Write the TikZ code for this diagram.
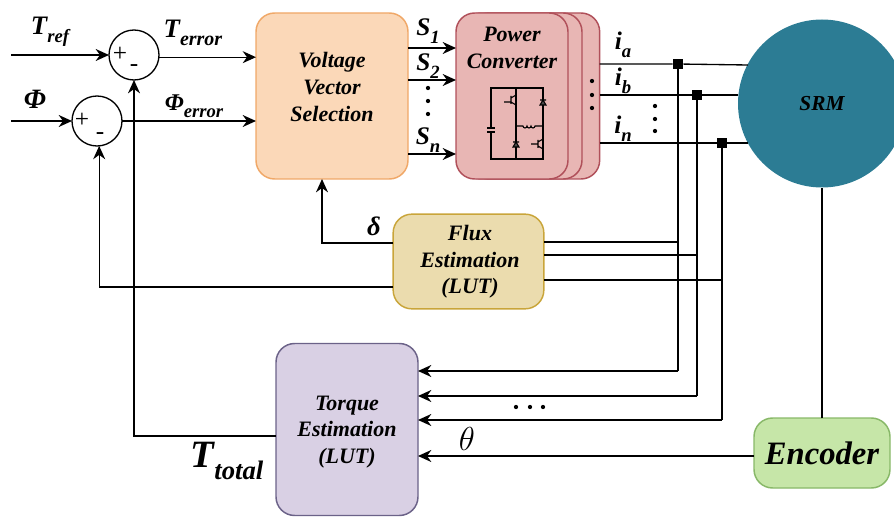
\documentclass[tikz,border=0pt]{standalone}
\usepackage{fontspec}
\usepackage{tikz}
\usetikzlibrary{arrows.meta}
\setmainfont{Liberation Serif}

\definecolor{vvsfill}{HTML}{FBD8B8}
\definecolor{vvsline}{HTML}{F0A868}
\definecolor{pcfill}{HTML}{E8B6B4}
\definecolor{pcline}{HTML}{B0505A}
\definecolor{fluxfill}{HTML}{EBDCAE}
\definecolor{fluxline}{HTML}{C9A53A}
\definecolor{tqfill}{HTML}{D9D0E4}
\definecolor{tqline}{HTML}{6B6288}
\definecolor{encfill}{HTML}{C6E6A8}
\definecolor{encline}{HTML}{88B868}
\definecolor{srmfill}{HTML}{2C7C94}

\newcommand{\lab}[3][15]{#2\raisebox{-.3em}{\fontsize{#1}{#1}\selectfont #3}}

\begin{document}
\begin{tikzpicture}
  [x=.75pt, y=-.75pt, line width=1pt, >={Stealth[length=10pt,width=9pt]},
   every node/.style={font=\fontsize{16.5}{20}\selectfont\bfseries\itshape, align=center},
   block/.style={draw, rounded corners=14pt, inner sep=0pt, outer sep=0pt, line width=1.1pt},
   sumc/.style={draw, circle, minimum size=37.5pt, inner sep=0pt, outer sep=0pt},
   junc/.style={fill=black, minimum size=8pt, inner sep=0pt, outer sep=0pt},
   biglab/.style={font=\fontsize{20}{20}\selectfont\bfseries\itshape},
   sublab/.style={font=\fontsize{19}{19}\selectfont\bfseries\itshape},
   sign/.style={font=\fontsize{19}{19}\selectfont\rmfamily},
   dot/.style={fill=black, circle, minimum size=3.2pt, inner sep=0pt}]
  \useasboundingbox (0, 0) rectangle (894, 517);

  \node[draw=none, fill=srmfill, circle, minimum size=126pt, inner sep=0pt, font=\fontsize{16}{16}\selectfont\bfseries\itshape] (srm) at (822, 103.5) {SRM};
  \node[block, draw=vvsline, fill=vvsfill, minimum width=114pt, minimum height=124.5pt] (vvs) at (332, 96) {};
  \node (vvstext) at (332, 87) {Voltage\\Vector\\Selection};
  \node[block, draw=pcline, fill=pcfill, minimum width=97pt, minimum height=124.5pt] (pc3) at (535, 96) {};
  \node[block, draw=pcline, fill=pcfill, minimum width=90pt, minimum height=124.5pt] (pc2) at (522, 96) {};
  \node[block, draw=pcline, fill=pcfill, minimum width=84pt, minimum height=124.5pt] (pc1) at (512, 96) {};
  \node (pctext) at (512, 48) {Power\\Converter};
  \node[block, draw=fluxline, fill=fluxfill, minimum width=113pt, minimum height=71pt] (flux) at (468.5, 261.5) {};
  \node (fluxtext) at (470, 262) {Flux\\Estimation\\(LUT)};
  \node[block, draw=tqline, fill=tqfill, minimum width=106.5pt, minimum height=129pt] (tq) at (347, 429.5) {};
  \node (tqtext) at (347, 432) {Torque\\Estimation\\(LUT)};
  \node[block, draw=encline, fill=encfill, minimum width=102pt, minimum height=52.5pt, font=\fontsize{24.5}{24.5}\selectfont\bfseries\itshape] (enc) at (822, 453) {Encoder};

  \node[sumc] (sum1) at (134, 55) {};
  \node[sumc] (sum2) at (97, 121) {};
  \node[sign] (p1) at (120, 54) {+};
  \node[sign] (m1) at (134, 68) {-};
  \node[sign] (p2) at (82, 120) {+};
  \node[sign] (m2) at (100, 136) {-};

  \coordinate (tin) at (11, 55);
  \coordinate (fin) at (11, 121);
  \coordinate (ea) at (748, 65);
  \coordinate (eb) at (738, 95);
  \coordinate (en) at (748, 143);
  \node[junc] (ja) at (678, 64) {};
  \node[junc] (jb) at (697, 95) {};
  \node[junc] (jn) at (722, 143) {};
  \coordinate (ta) at (678, 371);
  \coordinate (tb) at (697, 396);
  \coordinate (tn) at (722, 420);

  % inputs and errors
  \draw[->] (tin) -- (sum1);
  \draw[->] (fin) -- (sum2);
  \draw[->] (sum1.-5) -- (sum1.-5 -| vvs.west);
  \draw[->] (sum2.east) -- (sum2.east -| vvs.west);

  % switching signals
  \foreach \y in {48,80,154}
  \draw[->] (vvs.west -| vvs.east) ++(0, \y-96) -- ++(48, 0);

  % phase currents
  \draw (pc3.east |- ja) -- (ja) -- (ea);
  \draw (pc3.east |- jb) -- (jb) -- (eb);
  \draw (pc3.east |- jn) -- (jn) -- (en);
  \foreach \from/\to in {ja/ta,jb/tb,jn/tn}
  \draw (\from) -- (\to);
  \foreach \from in {ta,tb,tn}
  \draw[->] (\from) -- (\from -| tq.east);

  % flux branch
  \draw (flux.east |- 0, 242) -- (678, 242);
  \draw (flux.east |- 0, 255) -- (697, 255);
  \draw (flux.east |- 0, 280) -- (722, 280);
  \draw[->] (flux.west |- 0, 243) -| (vvs.south -| 322, 0);
  \draw[->] (flux.west |- 0, 287) -| (sum2.-85);

  % torque and encoder
  \draw[->] (tq.west |- 0, 436) -| (sum1.south);
  \draw (enc.north -| srm.south) -- (srm.south);
  \draw[->] (enc.west |- 0, 456) -- (tq.east |- 0, 456);

  % labels
  \node[biglab] (ltref) at (50, 32) {\lab[14]{T}{ref}};
  \node[biglab] (lterr) at (193, 33) {\lab{T}{error}};
  \node[font=\fontsize{21}{21}\selectfont\bfseries\itshape] (lphi) at (35, 99) {Φ};
  \node[font=\fontsize{18}{18}\selectfont\bfseries\itshape] (lperr) at (194, 106) {\lab[14]{Φ}{error}};
  \node[sublab] (ls1) at (428, 31) {\lab[14]{S}{1}};
  \node[sublab] (ls2) at (428, 66) {\lab[14]{S}{2}};
  \node[sublab] (lsn) at (428, 140) {\lab[14]{S}{n}};
  \node[sublab] (lia) at (623, 45) {\lab[14]{i}{a}};
  \node[sublab] (lib) at (623, 81) {\lab[14]{i}{b}};
  \node[sublab] (lin) at (623, 129) {\lab[14]{i}{n}};
  \node[biglab] (ldelta) at (374, 226) {δ};
  \node[font=\fontsize{29}{29}\selectfont\bfseries\itshape] (lttot) at (227, 461) {\lab[20]{T}{total}};
  \node[font=\fontsize{26}{26}\selectfont] (ltheta) at (467, 439) {$\theta$};

  % dots
  \foreach \x/\y [count=\i] in {428/88,428/101,428/114,592/81,592/95,592/108,655/106,655/119,655/131,516/407,530/407,543/407}
  \node[dot] (d\i) at (\x, \y) {};

  % converter circuit
  \draw[line width=.8pt] (516, 88) -- (491, 88) -- (491, 128) (491, 133) -- (491, 159) -- (543, 159) -- (543, 88) -- (516, 88) -- (516, 159);
  \draw[line width=.8pt] (487, 128) -- (495, 128) (487, 132) -- (495, 132);
  \draw[line width=.8pt] (516, 126) -- (523, 126) arc (180:0:2) arc (180:0:2) arc (180:0:2) -- (537, 126) -- (539, 126) -- (543, 126);
  \draw[line width=.8pt] (504, 102) -- (510, 102) (511, 96) -- (511, 104) (511, 98) -- (516, 95) (511, 102) -- (516, 105);
  \draw[line width=.8pt] (531, 144) -- (537, 144) (538, 140) -- (538, 148) (538, 142) -- (543, 139) (538, 146) -- (543, 149);
  \draw[line width=.8pt, fill=black!70] (540, 105) -- (546, 105) -- (543, 100) -- cycle (540, 100) -- (546, 100);
  \draw[line width=.8pt, fill=black!70] (513, 147) -- (519, 147) -- (516, 142) -- cycle (513, 142) -- (519, 142);
\end{tikzpicture}
\end{document}
